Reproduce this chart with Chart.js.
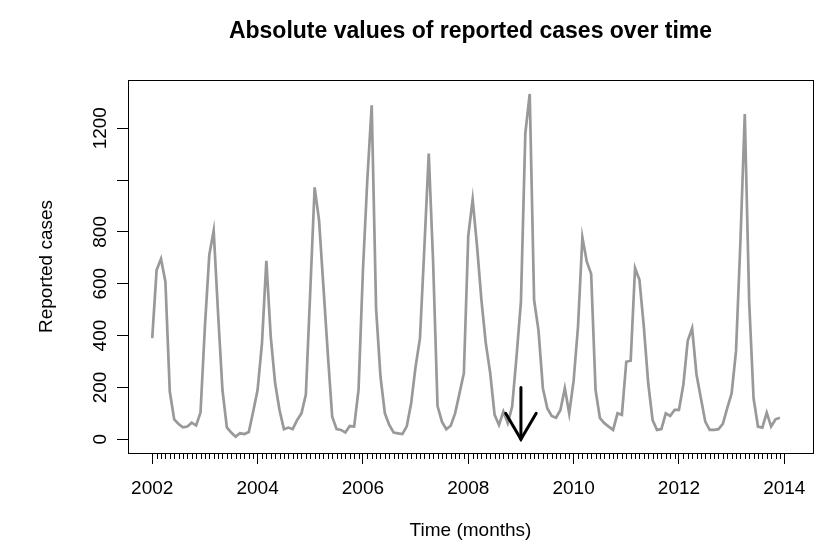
<!DOCTYPE html>
<html>
<head>
<meta charset="utf-8">
<title>Absolute values of reported cases over time</title>
<script src="https://cdn.jsdelivr.net/npm/chart.js@4.4.1/dist/chart.umd.min.js"></script>
<style>
    body { margin: 0; background: #ffffff; }
    #wrap { width: 825px; height: 548px; }
</style>
</head>
<body>
<div id="wrap"><canvas id="casesChart" width="825" height="548"></canvas></div>
<script>
// Monthly reported cases, Jan 2002 - Dec 2013
const firstYear = 2002;
const cases = [
    390, 653, 696, 608, 184, 77, 59, 46, 49, 64, 53, 103,      // 2002
    434, 711, 805, 486, 190, 46, 26, 10, 23, 20, 28, 107,      // 2003
    190, 370, 688, 396, 216, 113, 39, 45, 39, 74, 100, 172,    // 2004
    570, 972, 846, 589, 330, 87, 39, 36, 26, 51, 49, 190,      // 2005
    650, 1000, 1288, 505, 242, 100, 55, 26, 23, 20, 51, 140,   // 2006
    280, 390, 740, 1102, 680, 128, 68, 39, 52, 100, 177, 255,  // 2007
    785, 925, 745, 537, 370, 255, 94, 55, 107, 62, 126, 320,   // 2008
    531, 1180, 1332, 537, 420, 197, 120, 90, 83, 113, 197, 100,// 2009
    225, 434, 779, 685, 638, 190, 81, 62, 49, 36, 100, 94,     // 2010
    299, 303, 660, 615, 434, 216, 74, 36, 39, 100, 90, 113,    // 2011
    113, 210, 380, 428, 250, 158, 68, 36, 36, 39, 59, 120,     // 2012
    177, 340, 760, 1255, 530, 158, 49, 45, 103, 49, 77, 83     // 2013
];

// Axis ticks
const xTickYears = [2002, 2004, 2006, 2008, 2010, 2012, 2014];
const yTickValues = [0, 200, 400, 600, 800, 1000, 1200];
const yTickLabels = ['0', '200', '400', '600', '800', '', '1200'];   // R drops the 1000 label

// Arrow marking January 2009
const arrowYear = 2009;
const arrowFrom = 200;
const arrowTo = 0;

const series = cases.map((v, i) => ({ x: firstYear + i / 12, y: v }));

// arrow head arms, in data units
const headDx = 0.29;
const headDy = 100;

Chart.defaults.font.family = '"Liberation Sans", Arial, sans-serif';
Chart.defaults.color = '#000000';

/**
 * Draws the full plot frame and the monthly minor ticks
 */
const frameAndMinorTicks = {
    id: 'frameAndMinorTicks',
    afterDraw(chart) {
        const { ctx, chartArea: a } = chart;
        const x = chart.scales.x;
        ctx.save();
        ctx.strokeStyle = '#000000';
        ctx.lineWidth = 1;
        ctx.strokeRect(Math.round(a.left) + 0.5, Math.round(a.top) + 0.5,
            Math.round(a.right - a.left), Math.round(a.bottom - a.top));

        // minor ticks for each month between the first and last labelled year
        const first = xTickYears[0];
        const last = xTickYears[xTickYears.length - 1];
        const y0 = Math.round(a.bottom);
        for (let m = 1; m < (last - first) * 12; m++) {
            if (m % 24 === 0) continue;
            const px = Math.round(x.getPixelForValue(first + m / 12)) + 0.5;
            ctx.beginPath();
            ctx.moveTo(px, y0);
            ctx.lineTo(px, y0 + 6);
            ctx.stroke();
        }
        ctx.restore();
    }
};

const ctx = document.getElementById('casesChart').getContext('2d');

new Chart(ctx, {
    type: 'line',
    data: {
        datasets: [
            {
                label: 'Reported cases',
                data: series,
                borderColor: '#999999',
                borderWidth: 2.7,
                pointRadius: 0,
                tension: 0,
                fill: false,
                order: 1
            },
            {
                label: 'shaft',
                data: [{ x: arrowYear, y: arrowFrom }, { x: arrowYear, y: arrowTo }],
                borderColor: '#000000',
                borderWidth: 3,
                pointRadius: 0,
                borderCapStyle: 'round',
                order: 0
            },
            {
                label: 'head',
                data: [
                    { x: arrowYear - headDx, y: arrowTo + headDy },
                    { x: arrowYear, y: arrowTo },
                    { x: arrowYear + headDx, y: arrowTo + headDy }
                ],
                borderColor: '#000000',
                borderWidth: 3,
                pointRadius: 0,
                borderCapStyle: 'round',
                borderJoinStyle: 'miter',
                order: 0
            }
        ]
    },
    options: {
        responsive: false,
        animation: false,
        layout: {
            padding: { left: 0, right: 12, top: 0, bottom: 0 }
        },
        plugins: {
            legend: { display: false },
            tooltip: { enabled: false },
            title: {
                display: true,
                fullSize: false,
                text: 'Absolute values of reported cases over time',
                color: '#000000',
                font: { size: 23, weight: 'bold' },
                padding: { top: 18, bottom: 34.4 }
            }
        },
        scales: {
            x: {
                type: 'linear',
                min: 2001.54,
                max: 2014.545,
                afterBuildTicks: scale => {
                    scale.ticks = xTickYears.map(v => ({ value: v }));
                },
                afterFit: scale => {
                    scale.height = 95;
                },
                ticks: {
                    autoSkip: false,
                    maxRotation: 0,
                    padding: 13,
                    font: { size: 19 },
                    color: '#000000',
                    callback: value => String(value)
                },
                grid: {
                    drawOnChartArea: false,
                    tickLength: 11,
                    tickColor: '#000000',
                    tickWidth: 1
                },
                border: { color: '#000000', width: 1 },
                title: {
                    display: true,
                    text: 'Time (months)',
                    color: '#000000',
                    font: { size: 19 },
                    padding: { top: 0, bottom: 6 }
                }
            },
            y: {
                type: 'linear',
                min: -53,
                max: 1386,
                afterBuildTicks: scale => {
                    scale.ticks = yTickValues.map(v => ({ value: v }));
                },
                afterFit: scale => {
                    scale.width = 128;
                },
                ticks: {
                    autoSkip: false,
                    minRotation: 90,
                    maxRotation: 90,
                    crossAlign: 'center',
                    padding: -5,
                    font: { size: 19 },
                    color: '#000000',
                    callback: value => yTickLabels[yTickValues.indexOf(value)]
                },
                grid: {
                    drawOnChartArea: false,
                    tickLength: 11,
                    tickColor: '#000000',
                    tickWidth: 1
                },
                border: { color: '#000000', width: 1 },
                title: {
                    display: true,
                    text: 'Reported cases',
                    color: '#000000',
                    font: { size: 19 },
                    padding: { top: 35, bottom: 0 }
                }
            }
        }
    },
    plugins: [frameAndMinorTicks]
});
</script>
</body>
</html>
